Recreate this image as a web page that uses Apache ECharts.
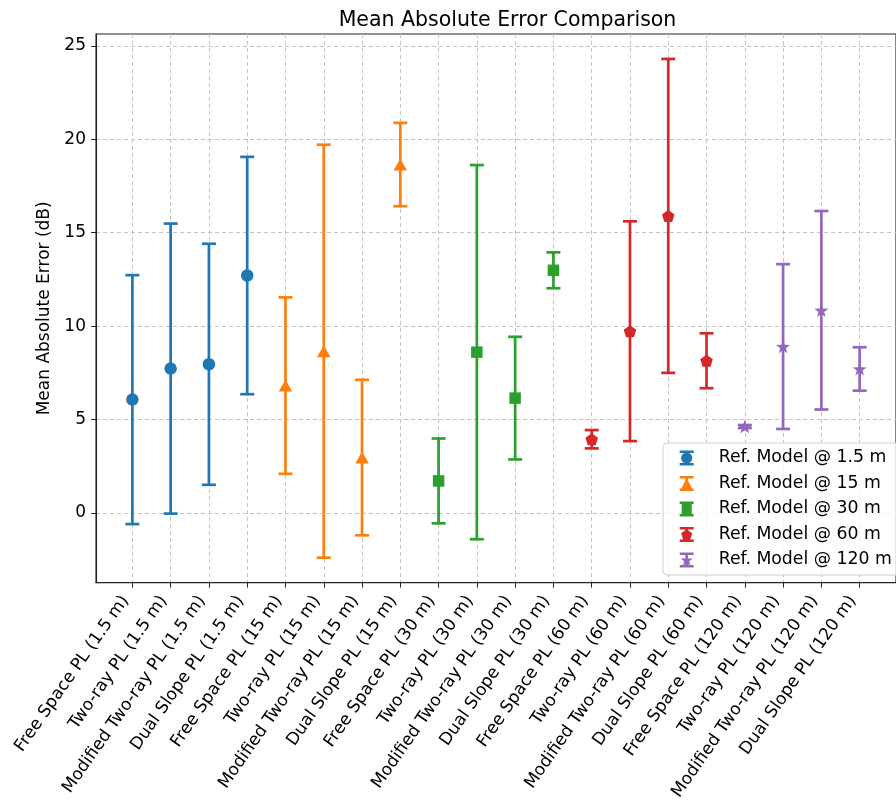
<!DOCTYPE html>
<html>
<head>
<meta charset="utf-8">
<script src="https://cdn.jsdelivr.net/npm/echarts@6/dist/echarts.min.js"></script>
<style>html,body{margin:0;padding:0;background:#fff}#c{width:896px;height:803px}</style>
</head>
<body>
<div id="c"></div>
<script>
const categories = [
  'Free Space PL (1.5 m)', 'Two-ray PL (1.5 m)', 'Modified Two-ray PL (1.5 m)', 'Dual Slope PL (1.5 m)',
  'Free Space PL (15 m)', 'Two-ray PL (15 m)', 'Modified Two-ray PL (15 m)', 'Dual Slope PL (15 m)',
  'Free Space PL (30 m)', 'Two-ray PL (30 m)', 'Modified Two-ray PL (30 m)', 'Dual Slope PL (30 m)',
  'Free Space PL (60 m)', 'Two-ray PL (60 m)', 'Modified Two-ray PL (60 m)', 'Dual Slope PL (60 m)',
  'Free Space PL (120 m)', 'Two-ray PL (120 m)', 'Modified Two-ray PL (120 m)', 'Dual Slope PL (120 m)'
];
const seriesNames = ['Ref. Model @ 1.5 m', 'Ref. Model @ 15 m', 'Ref. Model @ 30 m', 'Ref. Model @ 60 m', 'Ref. Model @ 120 m'];

const idx_1_5 = [0, 1, 2, 3];
const mean_1_5 = [6.07, 7.73, 7.96, 12.71];
const err_1_5 = [6.66, 7.76, 6.45, 6.35];

const idx_15 = [4, 5, 6, 7];
const mean_15 = [6.82, 8.66, 2.97, 18.65];
const err_15 = [4.72, 11.05, 4.16, 2.23];

const idx_30 = [8, 9, 10, 11];
const mean_30 = [1.72, 8.61, 6.15, 12.99];
const err_30 = [2.27, 10.01, 3.28, 0.96];

const idx_60 = [12, 13, 14, 15];
const mean_60 = [3.95, 9.73, 15.90, 8.15];
const err_60 = [0.49, 5.88, 8.40, 1.47];

const idx_120 = [16, 17, 18, 19];
const mean_120 = [4.63, 8.91, 10.85, 7.71];
const err_120 = [0.08, 4.41, 5.31, 1.16];

const yTicks = [0, 5, 10, 15, 20, 25];

const colors = ['#1f77b4', '#ff7f0e', '#2ca02c', '#d62728', '#9467bd'];

// marker geometry helpers
function polyPath(cx, cy, pts) {
  return 'M' + pts.map(p => (cx + p[0]).toFixed(3) + ' ' + (cy + p[1]).toFixed(3)).join(' L') + ' Z';
}
function ngon(cx, cy, r, n) {
  const pts = [];
  for (let i = 0; i < n; i++) { const a = i * 2 * Math.PI / n; pts.push([r * Math.sin(a), -r * Math.cos(a)]); }
  return polyPath(cx, cy, pts);
}
function star(cx, cy, r, ri) {
  const pts = [];
  for (let i = 0; i < 10; i++) { const a = i * Math.PI / 5; const rr = i % 2 ? ri : r; pts.push([rr * Math.sin(a), -rr * Math.cos(a)]); }
  return polyPath(cx, cy, pts);
}
const markerShapes = [
  (cx, cy, r) => `M${cx + r} ${cy} A${r} ${r} 0 1 1 ${cx - r} ${cy} A${r} ${r} 0 1 1 ${cx + r} ${cy} Z`,
  (cx, cy, r) => polyPath(cx, cy, [[0, -r], [r, r], [-r, r]]),
  (cx, cy, r) => polyPath(cx, cy, [[-r * 0.9, -r * 0.9], [r * 0.9, -r * 0.9], [r * 0.9, r * 0.9], [-r * 0.9, r * 0.9]]),
  (cx, cy, r) => ngon(cx, cy + r * 0.1, r * 1.05, 5),
  (cx, cy, r) => star(cx, cy + r * 0.1, r * 1.15, r * 0.47)
];
const scatterSymbols = [
  'circle',
  'triangle',
  'rect',
  'path://' + ngon(0, 0, 10, 5),
  'path://' + star(0, 0, 10, 4)
];
const scatterSizes = [12.5, [13.5, 12], 11.5, [12.6, 12], [14, 13.3]];

function legendIcon(k) {
  const parts = [
    'M0 0 H14 V2.6 H0 Z',
    'M0 12.4 H14 V15 H0 Z',
    'M5.7 0 H8.3 V15 H5.7 Z',
    markerShapes[k](7, 7.5, 5.6)
  ];
  return 'path://' + parts.join(' ');
}

const groups = [
  [idx_1_5, mean_1_5, err_1_5],
  [idx_15, mean_15, err_15],
  [idx_30, mean_30, err_30],
  [idx_60, mean_60, err_60],
  [idx_120, mean_120, err_120]
];

let allLo = Infinity, allHi = -Infinity;
groups.forEach(g => g[1].forEach((m, i) => { allLo = Math.min(allLo, m - g[2][i]); allHi = Math.max(allHi, m + g[2][i]); }));
const ySpan = allHi - allLo;
const yMin = allLo - 0.05 * ySpan, yMax = allHi + 0.05 * ySpan;

const series = [];
groups.forEach((g, k) => {
  const color = colors[k];
  series.push({
    type: 'custom',
    name: seriesNames[k],
    data: g[0].map((x, i) => [x, g[1][i] - g[2][i], g[1][i] + g[2][i]]),
    encode: { x: 0, y: [1, 2] },
    z: 2 + k * 2,
    renderItem: function (params, api) {
      const x = api.value(0), lo = api.value(1), hi = api.value(2);
      const top = api.coord([x, hi]), bot = api.coord([x, lo]);
      const st = { stroke: color, lineWidth: 2.7 };
      return {
        type: 'group',
        children: [
          { type: 'line', shape: { x1: top[0], y1: top[1], x2: bot[0], y2: bot[1] }, style: st },
          { type: 'line', shape: { x1: top[0] - 7, y1: top[1], x2: top[0] + 7, y2: top[1] }, style: st },
          { type: 'line', shape: { x1: bot[0] - 7, y1: bot[1], x2: bot[0] + 7, y2: bot[1] }, style: st }
        ]
      };
    }
  });
  series.push({
    type: 'scatter',
    name: seriesNames[k],
    data: g[0].map((x, i) => [x, g[1][i]]),
    symbol: scatterSymbols[k],
    symbolSize: scatterSizes[k],
    itemStyle: { color: color, opacity: 1 },
    z: 3 + k * 2
  });
});

const chart = echarts.init(document.getElementById('c'), null, { renderer: 'canvas' });
const font = 'DejaVu Sans';
chart.setOption({
  animation: false,
  color: colors,
  textStyle: { fontFamily: font },
  title: {
    text: 'Mean Absolute Error Comparison',
    left: 502.5, top: 5, textAlign: 'center',
    textStyle: { fontFamily: font, fontSize: 20.5, fontWeight: 'normal', color: '#000' }
  },
  grid: { left: 96, top: 34, width: 813, height: 550, show: true, borderColor: '#222', borderWidth: 1.1, containLabel: false },
  legend: {
    orient: 'vertical',
    left: 663, top: 443,
    itemWidth: 14, itemHeight: 15, itemGap: 5.5,
    padding: [5, 10, 5, 16.7],
    backgroundColor: 'rgba(255,255,255,0.8)',
    borderColor: '#d0d0d0', borderWidth: 1, borderRadius: 4,
    selectedMode: false,
    textStyle: { fontFamily: font, fontSize: 17.3, color: '#000', lineHeight: 20, padding: [0, 0, 0, 20] },
    data: seriesNames.map((n, k) => ({ name: n, icon: legendIcon(k), itemStyle: { color: colors[k] } }))
  },
  xAxis: {
    type: 'value',
    min: -0.95, max: 19.95,
    axisLine: { show: true, onZero: false, lineStyle: { color: '#222', width: 1.1 } },
    axisTick: { show: true, length: 5, lineStyle: { color: '#222', width: 1 }, customValues: categories.map((c, i) => i) },
    axisLabel: {
      customValues: categories.map((c, i) => i),
      formatter: v => categories[Math.round(v)],
      rotate: 55, margin: 5, padding: [0, 12, 0, 0], fontFamily: font, fontSize: 17, color: '#000'
    },
    splitLine: { show: true, lineStyle: { color: '#c4c4c4', width: 1, type: [4, 3] } }
  },
  yAxis: {
    type: 'value',
    min: yMin, max: yMax,
    name: 'Mean Absolute Error (dB)',
    nameLocation: 'middle', nameGap: 34,
    nameTextStyle: { fontFamily: font, fontSize: 17, color: '#000' },
    axisLine: { show: true, onZero: false, lineStyle: { color: '#222', width: 1.1 } },
    axisTick: { show: true, length: 5, lineStyle: { color: '#222', width: 1 }, customValues: yTicks },
    axisLabel: { customValues: yTicks, margin: 10, fontFamily: font, fontSize: 17, color: '#000' },
    splitLine: { show: true, lineStyle: { color: '#c4c4c4', width: 1, type: [4, 3] } }
  },
  series: series
});
</script>
</body>
</html>
